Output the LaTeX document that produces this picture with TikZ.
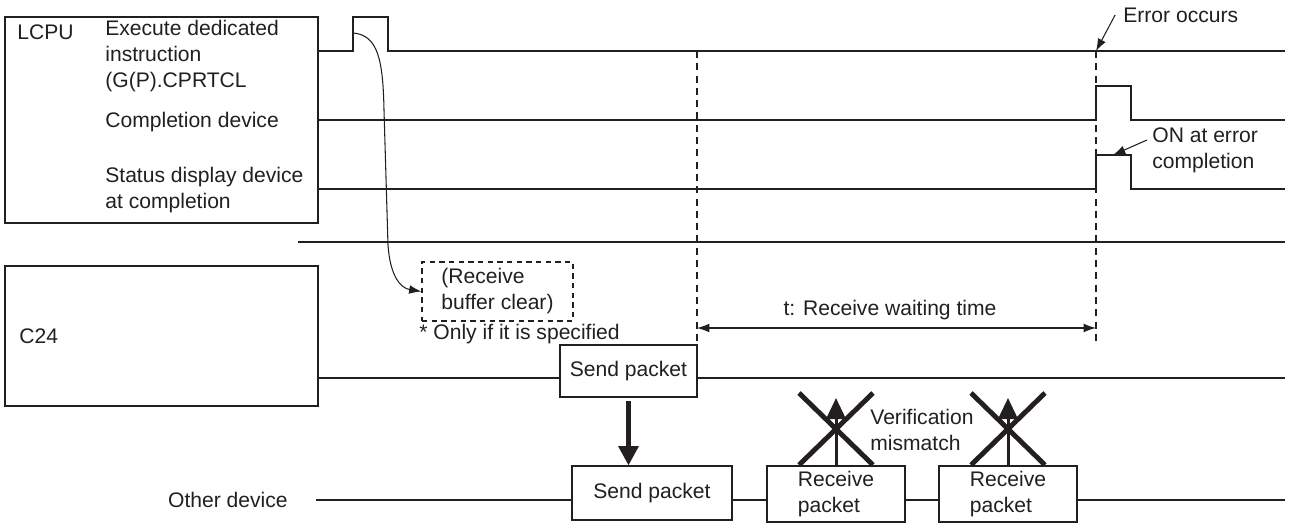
\documentclass[tikz,border=0pt]{standalone}
\usepackage{fontspec}
\setmainfont{Liberation Sans}
\usetikzlibrary{arrows.meta}
\definecolor{ink}{HTML}{231F20}

\begin{document}
\begin{tikzpicture}[x=0.02cm, y=-0.02cm, color=ink, font=\fontsize{12}{14.8}\selectfont,
    sig/.style={line width=0.6pt},
    bus/.style={line width=1.3pt},
    guide/.style={line width=0.6pt, dash pattern=on 4pt off 3pt},
    lbl/.style={inner sep=0pt},
    pkt/.style={draw, line width=0.6pt, fill=white, align=left, inner sep=0pt},
    note/.style={sig, -{Latex[length=7pt, width=5pt]}},
    cross/.style={line width=2.8pt}]
  \useasboundingbox (0,0) rectangle (1289,523);

  % Bloecke links
  \draw[sig] (5,17) rectangle (318,223);
  \node[lbl, anchor=west] (lcpu) at (17,32) {LCPU};
  \node[lbl, anchor=west, align=left] (exec) at (105,56) {Execute dedicated\\instruction\\(G(P).CPRTCL};
  \node[lbl, anchor=west] (done) at (105,122) {Completion device};
  \node[lbl, anchor=west, align=left] (stat) at (105,190) {Status display device\\at completion};

  \draw[sig] (5,266) rectangle (318,406);
  \node[lbl, anchor=west] (c24) at (19,336) {C24};
  \node[lbl, anchor=east] (other) at (288,500) {Other device};

  % Signalverlaeufe
  \draw[sig] (318,51) -- (353,51) -- (353,17) -- (388,17) -- (388,51) -- (1285,51);
  \draw[sig] (318,120) -- (1096,120) -- (1096,86) -- (1131,86) -- (1131,120) -- (1285,120);
  \draw[sig] (318,189) -- (1096,189) -- (1096,155) -- (1131,155) -- (1131,189) -- (1285,189);
  \draw[bus] (298,242) -- (1285,242);
  \draw[bus] (318,378) -- (1285,378);
  \draw[bus] (316,500) -- (1285,500);

  % Wartezeit
  \draw[guide] (697,51) -- (697,345);
  \draw[guide] (1096,51) -- (1096,345);
  \coordinate (tstart) at (697,328);
  \coordinate (tend) at (1096,328);
  \draw[sig, {Latex[length=7pt, width=5pt]}-{Latex[length=7pt, width=5pt]}] (tstart) -- (tend);
  \node[lbl] (twait) at (890,310) {t: Receive waiting time};

  % Puffer loeschen
  \node[draw, sig, dash pattern=on 3pt off 2.5pt, minimum width=3.02cm, minimum height=1.18cm,
    align=left] (clear) at (497.5,291.5) {(Receive\\buffer clear)};
  \node[lbl, anchor=west] (only) at (419,334) {* Only if it is specified};
  \coordinate (pulse) at (353,33);
  \draw[note] (pulse) .. controls (378,35) and (383,60) .. (384,110) -- (388,245)
    .. controls (390,275) and (400,288) .. (clear.west);

  % Pakete
  \node[pkt, minimum width=2.74cm, minimum height=1.04cm] (sendc) at (628.5,371) {Send packet};
  \node[pkt, minimum width=3.2cm, minimum height=1.08cm] (sendo) at (652,493) {Send packet};
  \node[pkt, minimum width=2.76cm, minimum height=1.12cm] (recv1) at (836,494) {Receive\\packet};
  \node[pkt, minimum width=2.76cm, minimum height=1.12cm] (recv2) at (1008,494) {Receive\\packet};
  \draw[line width=2.8pt, -{Triangle[length=11pt, width=11pt]}] ([yshift=-2pt]sendc.south) -- (sendc.south |- sendo.north);

  % Empfang mit Fehler
  \coordinate (up) at (0,398);
  \draw[line width=1.7pt, -{Triangle[length=12pt, width=11pt]}] (recv1.north) -- (recv1.north |- up);
  \draw[line width=1.7pt, -{Triangle[length=12pt, width=11pt]}] (recv2.north) -- (recv2.north |- up);
  \draw[cross] (799,393) -- (873,465) (873,393) -- (799,465);
  \draw[cross] (971,393) -- (1045,465) (1045,393) -- (971,465);
  \node[lbl, anchor=west, align=left] (mism) at (870,430) {Verification\\mismatch};

  % Fehler
  \node[lbl, anchor=west] (err) at (1123,15) {Error occurs};
  \coordinate (errpt) at (1096,51);
  \draw[note] ([xshift=-4.5pt]err.west) -- (errpt);
  \node[lbl, anchor=west, align=left] (onerr) at (1152,150) {ON at error\\completion};
  \coordinate (onpt) at (1113,155);
  \draw[note] ([shift={(-5,-10)}]onerr.west) -- (onpt);
\end{tikzpicture}
\end{document}
